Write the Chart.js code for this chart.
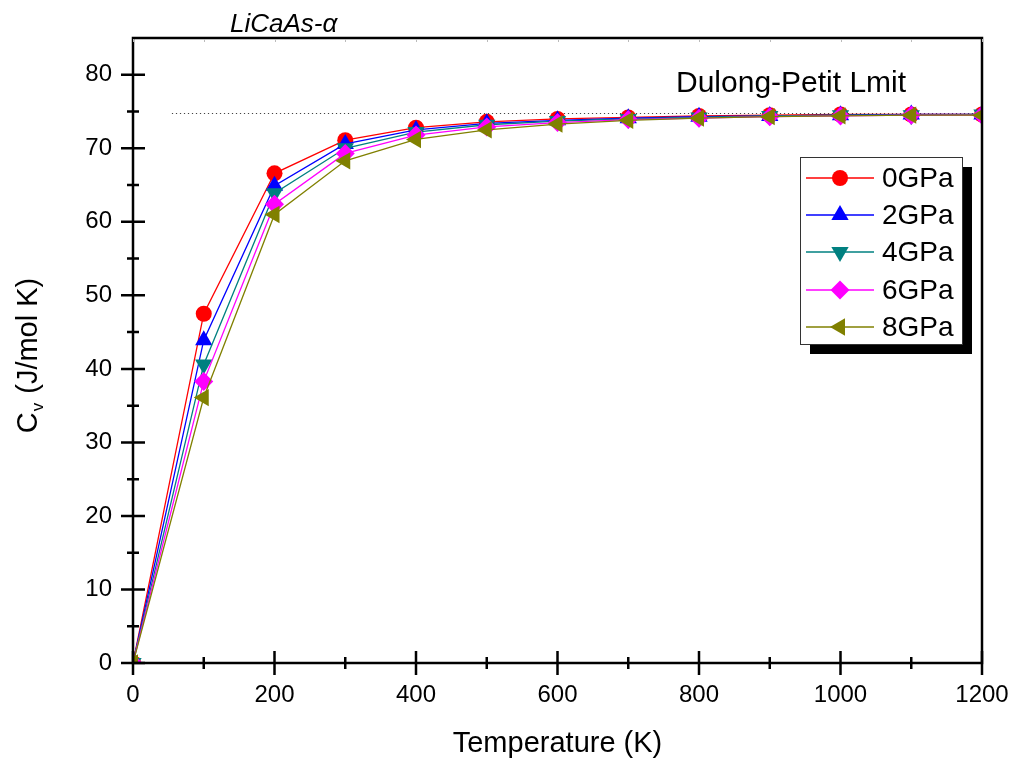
<!DOCTYPE html>
<html>
<head>
<meta charset="utf-8">
<script src="https://cdn.jsdelivr.net/npm/chart.js@4.4.0/dist/chart.umd.min.js"></script>
<style>
    html, body { margin: 0; padding: 0; background: #fff; }
    #wrap { width: 1013px; height: 761px; position: relative; }
</style>
</head>
<body>
<div id="wrap"><canvas id="cvChart"></canvas></div>
<script>
// data
const temperatures = [0, 100, 200, 300, 400, 500, 600, 700, 800, 900, 1000, 1100, 1200];
const cv0GPa = [0, 47.5, 66.6, 71.1, 72.8, 73.6, 74.0, 74.2, 74.4, 74.5, 74.6, 74.6, 74.6];
const cv2GPa = [0, 43.9, 64.9, 70.6, 72.5, 73.4, 73.8, 74.1, 74.3, 74.4, 74.5, 74.6, 74.6];
const cv4GPa = [0, 40.6, 63.9, 70.0, 72.2, 73.2, 73.7, 74.0, 74.2, 74.4, 74.5, 74.5, 74.6];
const cv6GPa = [0, 38.3, 62.4, 69.3, 71.8, 72.9, 73.5, 73.9, 74.1, 74.3, 74.4, 74.5, 74.5];
const cv8GPa = [0, 36.1, 61.0, 68.3, 71.2, 72.5, 73.3, 73.8, 74.1, 74.3, 74.4, 74.5, 74.5];

const seriesLabels = ['0GPa', '2GPa', '4GPa', '6GPa', '8GPa'];
const seriesValues = [cv0GPa, cv2GPa, cv4GPa, cv6GPa, cv8GPa];
const seriesColors = ['#ff0000', '#0000ff', '#008080', '#ff00ff', '#808000'];
const pointStyles = ['circle', 'triangle', 'triangle', 'rectRot', 'triangle'];
const pointRotations = [0, 0, 180, 0, 270];
const pointSizes = [8, 10, 10, 9.5, 10];

const xTicks = [0, 200, 400, 600, 800, 1000, 1200];
const xMinorTicks = [100, 300, 500, 700, 900, 1100];
const yTicks = [0, 10, 20, 30, 40, 50, 60, 70, 80];
const yMinorTicks = [5, 15, 25, 35, 45, 55, 65, 75];
const dulongPetitLimit = 74.83;
const dulongLineStart = 55; // K, where the dotted limit line starts

const FONT = '"Liberation Sans", Arial, sans-serif';

const datasets = seriesLabels.map((label, i) => ({
    label: label,
    data: temperatures.map((t, j) => ({ x: t, y: seriesValues[i][j] })),
    borderColor: seriesColors[i],
    backgroundColor: seriesColors[i],
    borderWidth: 1.3,
    pointStyle: pointStyles[i],
    pointRotation: pointRotations[i],
    pointRadius: pointSizes[i],
    pointBackgroundColor: seriesColors[i],
    pointBorderColor: seriesColors[i],
    pointBorderWidth: 0,
    tension: 0,
    order: seriesLabels.length - i // last series drawn on top
}));

// frame, ticks, titles, annotation text and legend
const decorPlugin = {
    id: 'decor',
    beforeDatasetsDraw(chart) {
        const { ctx, chartArea: a, scales: { x, y } } = chart;
        const yp = Math.round(y.getPixelForValue(dulongPetitLimit)) + 0.5;
        ctx.save();
        ctx.strokeStyle = '#444';
        ctx.lineWidth = 1;
        ctx.setLineDash([1.2, 2.8]);
        ctx.beginPath();
        ctx.moveTo(x.getPixelForValue(dulongLineStart), yp);
        ctx.lineTo(a.right, yp);
        ctx.stroke();
        ctx.restore();
    },
    afterDraw(chart) {
        const { ctx, chartArea: a, scales: { x, y } } = chart;
        ctx.save();

        // frame
        ctx.strokeStyle = '#000';
        ctx.lineWidth = 2.5;
        ctx.strokeRect(a.left, a.top, a.right - a.left, a.bottom - a.top);

        // ticks crossing the left and bottom axes
        ctx.beginPath();
        yTicks.forEach(v => {
            const p = y.getPixelForValue(v);
            ctx.moveTo(a.left - 12, p); ctx.lineTo(a.left + 12, p);
        });
        yMinorTicks.forEach(v => {
            const p = y.getPixelForValue(v);
            ctx.moveTo(a.left - 6, p); ctx.lineTo(a.left + 6, p);
        });
        xTicks.forEach(v => {
            const p = x.getPixelForValue(v);
            ctx.moveTo(p, a.bottom - 12); ctx.lineTo(p, a.bottom + 12);
        });
        xMinorTicks.forEach(v => {
            const p = x.getPixelForValue(v);
            ctx.moveTo(p, a.bottom - 6); ctx.lineTo(p, a.bottom + 6);
        });
        ctx.stroke();

        // faint ticks under the top border
        ctx.strokeStyle = '#bbb';
        ctx.lineWidth = 1;
        ctx.beginPath();
        xTicks.concat(xMinorTicks).forEach(v => {
            const p = Math.round(x.getPixelForValue(v)) + 0.5;
            ctx.moveTo(p, a.top + 1); ctx.lineTo(p, a.top + 4);
        });
        ctx.stroke();

        ctx.fillStyle = '#000';
        ctx.textBaseline = 'alphabetic';

        // chart title
        ctx.font = 'italic 26px ' + FONT;
        ctx.textAlign = 'left';
        ctx.fillText('LiCaAs-\u03b1', 230, 32);

        // x axis title
        ctx.font = '29px ' + FONT;
        ctx.textAlign = 'center';
        ctx.fillText('Temperature (K)', (a.left + a.right) / 2, 752);

        // y axis title with subscript v
        ctx.save();
        ctx.translate(37, (a.top + a.bottom) / 2 + 5);
        ctx.rotate(-Math.PI / 2);
        ctx.textAlign = 'left';
        ctx.font = '29px ' + FONT;
        const wC = ctx.measureText('C').width;
        ctx.font = '17px ' + FONT;
        const wV = ctx.measureText('v').width;
        ctx.font = '29px ' + FONT;
        const wRest = ctx.measureText(' (J/mol K)').width;
        let cx = -(wC + wV + 2 + wRest) / 2;
        ctx.fillText('C', cx, 0);
        cx += wC + 1;
        ctx.font = '17px ' + FONT;
        ctx.fillText('v', cx, 6);
        cx += wV + 1;
        ctx.font = '29px ' + FONT;
        ctx.fillText(' (J/mol K)', cx, 0);
        ctx.restore();

        // Dulong-Petit label
        ctx.font = '30px ' + FONT;
        ctx.textAlign = 'left';
        ctx.fillText('Dulong-Petit Lmit', 676, 92);

        // legend box with shadow
        const lx = 800, ly = 157, lw = 162, lh = 187;
        ctx.fillStyle = '#000';
        ctx.fillRect(lx + 10, ly + 10, lw, lh);
        ctx.fillStyle = '#fff';
        ctx.fillRect(lx, ly, lw, lh);
        ctx.strokeStyle = '#333';
        ctx.lineWidth = 1;
        ctx.strokeRect(lx + 0.5, ly + 0.5, lw, lh);

        const rowY = [178, 215, 252, 290, 327];
        seriesLabels.forEach((label, i) => {
            const ry = rowY[i];
            ctx.strokeStyle = seriesColors[i];
            ctx.lineWidth = 1.3;
            ctx.beginPath();
            ctx.moveTo(806, ry); ctx.lineTo(874, ry);
            ctx.stroke();
            ctx.fillStyle = seriesColors[i];
            Chart.helpers.drawPoint(ctx, {
                pointStyle: pointStyles[i],
                rotation: pointRotations[i],
                radius: pointSizes[i],
                borderWidth: 0
            }, 840, ry);
            ctx.fillStyle = '#000';
            ctx.font = '28px ' + FONT;
            ctx.textAlign = 'left';
            ctx.textBaseline = 'middle';
            ctx.fillText(label, 882, ry + 1);
        });

        ctx.restore();
    }
};

const ctx = document.getElementById('cvChart').getContext('2d');

const chart = new Chart(ctx, {
    type: 'line',
    data: { datasets: datasets },
    options: {
        responsive: true,
        maintainAspectRatio: false,
        animation: false,
        events: [],
        layout: { padding: { top: 38, right: 31, left: 0, bottom: 0 } },
        plugins: {
            legend: { display: false },
            tooltip: { enabled: false },
            title: { display: false }
        },
        scales: {
            x: {
                type: 'linear',
                min: 0,
                max: 1200,
                grid: { display: false, drawTicks: false },
                border: { display: false },
                ticks: {
                    color: '#000',
                    padding: 18,
                    maxRotation: 0,
                    font: { family: FONT, size: 24 },
                    callback: v => String(v)
                },
                afterBuildTicks: scale => { scale.ticks = xTicks.map(v => ({ value: v })); },
                afterFit: scale => {
                    scale.height = 98;
                    scale.paddingLeft = 0;
                    scale.paddingRight = 0;
                }
            },
            y: {
                type: 'linear',
                min: 0,
                max: 85,
                grid: { display: false, drawTicks: false },
                border: { display: false },
                ticks: {
                    color: '#000',
                    padding: 21,
                    font: { family: FONT, size: 24 },
                    callback: v => String(v)
                },
                afterBuildTicks: scale => { scale.ticks = yTicks.map(v => ({ value: v })); },
                afterFit: scale => {
                    scale.width = 133;
                    scale.paddingTop = 0;
                    scale.paddingBottom = 0;
                }
            }
        }
    },
    plugins: [decorPlugin]
});
</script>
</body>
</html>
